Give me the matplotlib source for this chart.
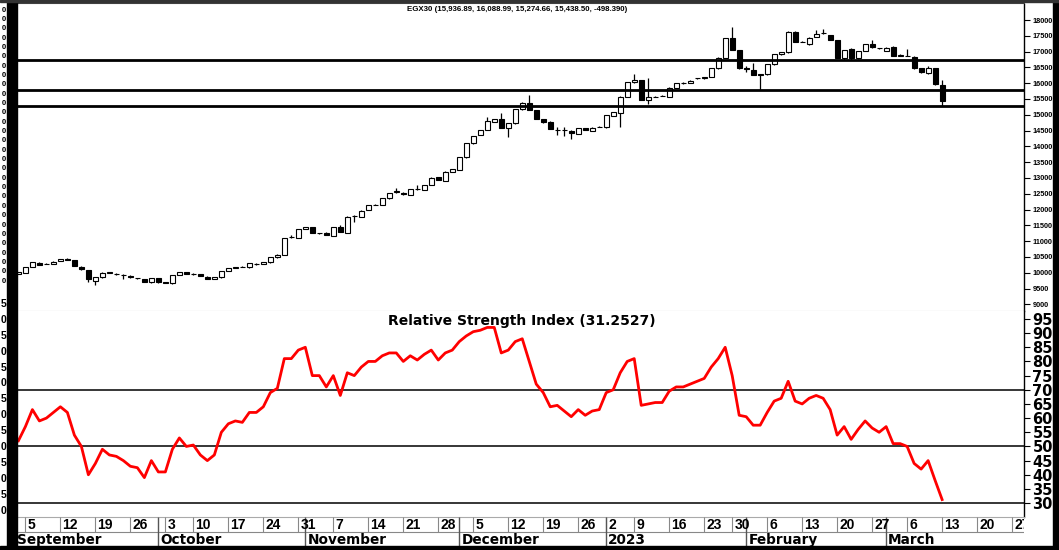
import numpy as np
import pandas as pd
import matplotlib
matplotlib.use('Agg')
import matplotlib.pyplot as plt
from matplotlib.patches import Rectangle

# ---- data ----
opens = [9975, 10005, 10183, 10320, 10280, 10290, 10373, 10440, 10394, 10193,
         10088, 9751, 9856, 10000, 9965, 9935, 9909, 9830, 9804, 9698,
         9825, 9700, 9667, 9930, 10014, 9965, 9950, 9877, 9804, 9856,
         10057, 10160, 10190, 10173, 10280, 10278, 10331, 10489, 10563, 11140,
         11111, 11386, 11438, 11250, 11270, 11175, 11460, 11270, 11800, 11776,
         11987, 12150, 12145, 12356, 12565, 12536, 12462, 12640, 12620, 12779,
         13021, 12916, 13200, 13253, 13654, 14097, 14360, 14518, 14782, 14856,
         14592, 14729, 15173, 15384, 15151, 14867, 14782, 14520, 14520, 14497,
         14392, 14571, 14497, 14620, 14603, 14972, 15046, 15574, 16027, 16101,
         15468, 15570, 15600, 15574, 15858, 16010, 16016, 16150, 16154, 16196,
         16470, 16808, 17420, 17050, 16470, 16417, 16280, 16280, 16597, 16913,
         16977, 17631, 17310, 17230, 17472, 17575, 17525, 17367, 16808, 17071,
         16787, 17019, 17230, 17105, 17029, 17156, 16870, 16871, 16840, 16470,
         16312, 16470, 15936.89]
highs = [10040, 10190, 10345, 10340, 10310, 10365, 10450, 10460, 10410, 10205,
         10100, 9870, 10015, 10030, 9990, 9950, 9920, 9850, 9815, 9835,
         9835, 9710, 9940, 10025, 10025, 9985, 9960, 9890, 9865, 10065,
         10150, 10185, 10210, 10310, 10300, 10350, 10500, 10585, 11100, 11190,
         11385, 11450, 11450, 11265, 11280, 11450, 11520, 11790, 11830, 11975,
         12155, 12170, 12365, 12525, 12673, 12550, 12650, 12778, 12790, 13020,
         13035, 13210, 13285, 13665, 14105, 14340, 14530, 14940, 14866, 15067,
         14740, 15185, 15395, 15626, 15160, 14880, 14790, 14624, 14600, 14510,
         14580, 14580, 14600, 14640, 15005, 15090, 15585, 16035, 16280, 16110,
         16154, 15600, 15625, 15870, 16005, 16030, 16090, 16175, 16205, 16480,
         16820, 17430, 17789, 17060, 16560, 16628, 16290, 16610, 16925, 16990,
         17640, 17640, 17330, 17450, 17683, 17715, 17535, 17375, 17060, 17110,
         17030, 17240, 17367, 17125, 17135, 17165, 16930, 17071, 16850, 16480,
         16555, 16480, 16088.99]
lows = [9950, 9990, 10170, 10240, 10265, 10280, 10360, 10400, 10200, 10095,
        9720, 9614, 9840, 9980, 9940, 9805, 9845, 9810, 9705, 9690,
        9690, 9670, 9660, 9920, 9950, 9945, 9890, 9795, 9790, 9845,
        10050, 10140, 10170, 10165, 10260, 10270, 10325, 10480, 10555, 11100,
        11100, 11375, 11260, 11230, 11195, 11165, 11280, 11260, 11597, 11770,
        11980, 12130, 12140, 12350, 12540, 12470, 12455, 12620, 12610, 12770,
        12925, 12905, 13190, 13245, 13645, 14090, 14350, 14510, 14775, 14580,
        14307, 14720, 15165, 15140, 14855, 14750, 14540, 14360, 14340, 14234,
        14385, 14505, 14490, 14600, 14595, 14965, 14624, 15565, 16020, 15460,
        15331, 15550, 15580, 15565, 15850, 15990, 16005, 16130, 16145, 16190,
        16460, 16800, 17040, 16460, 16360, 16250, 15785, 16270, 16590, 16905,
        16970, 17300, 17290, 17220, 17465, 17560, 17355, 16800, 16745, 16740,
        16760, 17010, 17125, 17085, 17020, 16860, 16850, 16855, 16460, 16330,
        16300, 15955, 15274.66]
closes = [10010, 10173, 10331, 10257, 10290, 10352, 10436, 10415, 10215, 10110,
          9793, 9856, 10004, 10010, 9960, 9930, 9856, 9825, 9719, 9825,
          9698, 9690, 9930, 10014, 9962, 9960, 9898, 9804, 9856, 10057,
          10141, 10163, 10195, 10299, 10285, 10341, 10489, 10574, 11090, 11145,
          11375, 11438, 11270, 11245, 11206, 11438, 11291, 11776, 11805, 11966,
          12145, 12155, 12356, 12515, 12570, 12483, 12641, 12645, 12779, 13011,
          12937, 13200, 13274, 13654, 14097, 14329, 14520, 14803, 14856, 14592,
          14729, 15173, 15384, 15151, 14867, 14761, 14550, 14515, 14520, 14413,
          14571, 14518, 14592, 14625, 14993, 15078, 15574, 16027, 16101, 15468,
          15574, 15575, 15605, 15858, 15995, 16015, 16080, 16155, 16196, 16470,
          16808, 17420, 17050, 16470, 16465, 16259, 16275, 16597, 16913, 16977,
          17631, 17314, 17305, 17441, 17546, 17578, 17367, 16808, 17050, 16787,
          17019, 17230, 17135, 17100, 17124, 16871, 16870, 16866, 16470, 16344,
          16470, 15964, 15438.50]
rsi = [52, 57, 63, 59, 60, 62, 64, 62, 54, 50,
       40, 44, 49, 47, 46.5, 45, 43, 42.5, 39, 45,
       41, 41, 49, 53, 50, 50.5, 47, 45, 47, 55,
       58, 59, 58.5, 62, 62, 64, 69, 70.5, 81, 81,
       84, 85, 75, 75, 71, 75, 68, 76, 75, 78,
       80, 80, 82, 83, 83, 80, 82, 80.5, 82.5, 84,
       80.5, 83, 84, 87, 89, 90.5, 91, 92, 92, 83,
       84, 87, 88, 80, 72, 69, 64, 64.5, 62.5, 60.5,
       63, 61, 62.5, 63, 69, 70, 76, 80, 81, 64.5,
       65, 65.5, 65.5, 69.5, 71, 71, 72, 73, 74, 78,
       81, 85, 75, 61, 60.5, 57.5, 57.5, 62, 66, 67,
       73, 66, 65, 67, 68, 67, 63, 54, 57, 52.5,
       56, 59, 56.5, 55, 57, 51, 51, 50, 44, 42,
       45, 38, 31.2527]
support_levels = [15274.66, 15785, 16740]
rsi_levels = [30, 50, 70]
holidays = ['2022-10-06', '2023-01-01', '2023-01-08', '2023-01-26']
month_names = ['October', 'November', 'December', '2023', 'February', 'March']
month_starts = ['2022-10-01', '2022-11-01', '2022-12-01', '2023-01-01', '2023-02-01', '2023-03-01']
price_title = 'EGX30 (15,936.89, 16,088.99, 15,274.66, 15,438.50, -498.390)'
rsi_title = 'Relative Strength Index (31.2527)'

# trading calendar (Sun-Thu)
days = pd.bdate_range('2022-09-04', '2023-04-06', freq='C',
                      weekmask='Sun Mon Tue Wed Thu', holidays=holidays)
mondays = pd.date_range('2022-09-05', '2023-03-27', freq='W-MON')
x = np.arange(len(opens))

W, H = 1059, 550
def fx(px):
    return px / W
def fy(py):
    return 1 - py / H

fig = plt.figure(figsize=(W / 100, H / 100), dpi=100)
L, R = 17, 1024
ax = fig.add_axes([fx(L), fy(311), fx(R - L), (311 - 3) / H])
ax2 = fig.add_axes([fx(L), fy(517), fx(R - L), (517 - 311) / H])
axd = fig.add_axes([fx(L), fy(546), fx(R - L), (546 - 517) / H])
xlim = (-0.2, 143.7)

# ---- price panel ----
o = np.array(opens, dtype=float)
c = np.array(closes, dtype=float)
body_lo = np.minimum(o, c)
body_h = np.maximum(np.abs(c - o), 8)
colors = np.where(c >= o, 'white', 'black')
ax.vlines(x, lows, highs, color='black', lw=0.9, zorder=2)
ax.bar(x, body_h, bottom=body_lo, width=0.72, color=colors,
       edgecolor='black', linewidth=0.8, zorder=3)
for lvl in support_levels:
    ax.axhline(lvl, color='black', lw=2.0, zorder=4)
ax.set_xlim(xlim)
ax.set_ylim(8791, 18538)
ax.yaxis.tick_right()
ax.set_yticks(np.arange(9000, 18001, 500))
ax.tick_params(axis='y', length=4, width=0.8, pad=2, labelsize=5.3)
for t in ax.get_yticklabels():
    t.set_fontfamily('Liberation Sans')
    t.set_fontweight('bold')
ax.tick_params(axis='x', bottom=False, labelbottom=False)
ax.text(0.497, 0.99, price_title, transform=ax.transAxes, ha='center', va='top',
        fontsize=5.7, fontweight='bold', family='Liberation Sans')

# ---- RSI panel ----
ax2.plot(x, rsi, color='#ff0000', lw=2.0, zorder=3)
for lvl in rsi_levels:
    ax2.axhline(lvl, color='black', lw=1.1, zorder=2)
ax2.set_xlim(xlim)
ax2.set_ylim(25.1, 97.8)
ax2.yaxis.tick_right()
ax2.set_yticks(np.arange(30, 96, 5))
ax2.tick_params(axis='y', length=4, width=0.8, pad=2, labelsize=10.5)
for t in ax2.get_yticklabels():
    t.set_fontweight('bold')
ax2.tick_params(axis='x', bottom=False, labelbottom=False)
ax2.text(0.501, 0.985, rsi_title, transform=ax2.transAxes, ha='center', va='top',
         fontsize=10, fontweight='bold')

for a in (ax, ax2):
    a.spines['left'].set_visible(False)
    a.spines['right'].set_linestyle((0, (1, 1)))
    a.spines['right'].set_linewidth(1.0)
    a.spines['bottom'].set_color('#aaaaaa')
    a.spines['bottom'].set_linewidth(0.8)
ax.spines['top'].set_color('#444444')
ax.spines['top'].set_linewidth(1.5)
ax2.spines['top'].set_visible(False)

# ---- date strip ----
axd.set_xlim(xlim)
axd.set_ylim(0, 1)
axd.axis('off')
axd.axhline(0.48, color='#888888', lw=0.8)
for d in mondays:
    i = days.searchsorted(d)
    axd.vlines(i, 0.48, 1, color='#888888', lw=0.8)
    axd.text(i + 0.3, 0.73, str(d.day), ha='left', va='center', fontsize=10,
             fontweight='bold', family='Liberation Sans', clip_on=True)
axd.text(xlim[0] + 0.05, 0.22, 'September', ha='left', va='center', fontsize=9.8,
         fontweight='bold', clip_on=True)
for name, ms in zip(month_names, month_starts):
    i = days.searchsorted(pd.Timestamp(ms))
    axd.vlines(i, 0, 1, color='#555555', lw=1.0)
    axd.text(i + 0.3, 0.22, name, ha='left', va='center', fontsize=9.8,
             fontweight='bold', clip_on=True)

# ---- left labels, mostly hidden behind the frame: only last digit shows ----
for k in range(30):
    fig.text(fx(6.5), fy(10 + 9.35 * k), '0', ha='right', va='center',
             fontsize=5.5, fontweight='bold', family='Liberation Sans')
for k in range(14):
    fig.text(fx(6.5), fy(304 + 15.9 * k), '5' if k % 2 == 0 else '0',
             ha='right', va='center', fontsize=7.5, fontweight='bold',
             family='Liberation Sans')

# ---- black frame pieces ----
for (x0, y0, w, h) in [(7, 0, 9.5, 550), (1053, 0, 6, 550), (0, 546, 1059, 4)]:
    fig.add_artist(Rectangle((fx(x0), fy(y0 + h)), fx(w), h / H,
                             transform=fig.transFigure, color='black', zorder=5))
fig.add_artist(Rectangle((0, fy(2)), 1, 2 / H, transform=fig.transFigure,
                         color='#333333', zorder=5))

fig.savefig('out.png', dpi=100)
